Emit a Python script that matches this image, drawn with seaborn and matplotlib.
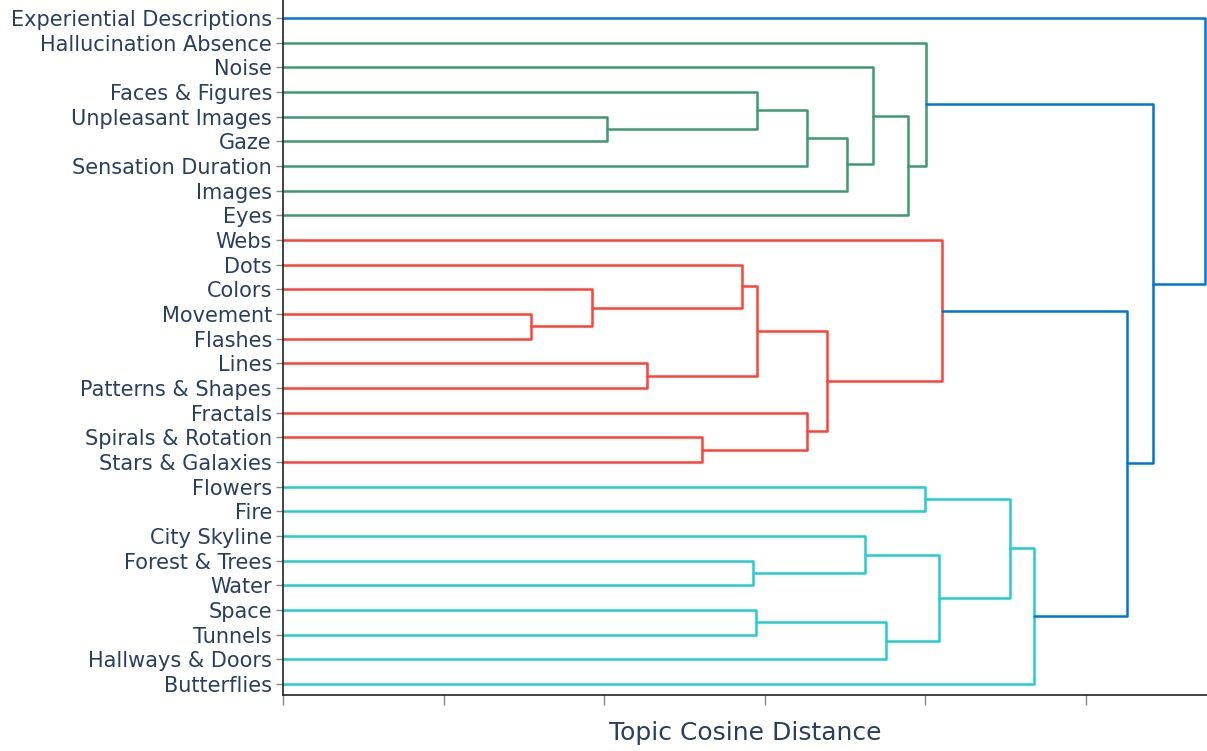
import matplotlib
matplotlib.use("Agg")
import matplotlib.pyplot as plt
import numpy as np
import pandas as pd
import seaborn as sns

# Leaf topics, top to bottom
leaf_labels = [
    "Experiential Descriptions", "Hallucination Absence", "Noise", "Faces & Figures",
    "Unpleasant Images", "Gaze", "Sensation Duration", "Images", "Eyes",
    "Webs", "Dots", "Colors", "Movement", "Flashes", "Lines", "Patterns & Shapes",
    "Fractals", "Spirals & Rotation", "Stars & Galaxies",
    "Flowers", "Fire", "City Skyline", "Forest & Trees", "Water", "Space",
    "Tunnels", "Hallways & Doors", "Butterflies",
]

# Linkage: node ids < 28 are leaves, ids >= 28 are earlier merges (28 + row)
link_left = [4, 3, 29, 30, 2, 32, 1,
             12, 11, 10, 14, 37, 17, 16, 39, 9,
             19, 22, 21, 24, 47, 46, 44, 50,
             43, 34, 0]
link_right = [5, 28, 6, 7, 31, 8, 33,
              13, 35, 36, 15, 38, 18, 40, 41, 42,
              20, 23, 45, 25, 26, 48, 49, 27,
              51, 52, 53]
link_height = [0.2019, 0.2953, 0.3265, 0.3514, 0.3676, 0.3894, 0.4006,
               0.1545, 0.1925, 0.2860, 0.2268, 0.2953, 0.2611, 0.3265, 0.3389, 0.4106,
               0.4000, 0.2928, 0.3626, 0.2947, 0.3757, 0.4087, 0.4530, 0.4679,
               0.5259, 0.5421, 0.5745]
link_group = ["g"] * 7 + ["r"] * 9 + ["c"] * 8 + ["b"] * 3

palette = {"g": "#3D9970", "r": "#FF4136", "c": "#23CDCD", "b": "#0074D9"}

# Build U-shaped paths for every link
n_leaves = len(leaf_labels)
node_pos = {i: float(i) for i in range(n_leaves)}
node_h = {i: 0.0 for i in range(n_leaves)}
rows = []
for k, (a, b, h, g) in enumerate(zip(link_left, link_right, link_height, link_group)):
    ya, yb = node_pos[a], node_pos[b]
    pts = [(node_h[a], ya), (h, ya), (h, yb), (node_h[b], yb)]
    for order, (x, y) in enumerate(pts):
        rows.append({"link": k, "order": order, "dist": x, "pos": y, "group": g})
    node_pos[n_leaves + k] = (ya + yb) / 2
    node_h[n_leaves + k] = h
segments = pd.DataFrame(rows)

sns.set_theme(style="ticks")
plt.rcParams["font.family"] = ["DejaVu Sans"]

W, H = 1207, 751
fig = plt.figure(figsize=(W / 100, H / 100), dpi=100)
left_px, bottom_px = 283, 695
ax = fig.add_axes([left_px / W, (H - bottom_px) / H, 1 - left_px / W, bottom_px / H])

sns.lineplot(data=segments, x="dist", y="pos", units="link", estimator=None,
             sort=False, hue="group", palette=palette, legend=False,
             linewidth=1.8, ax=ax)
for line in ax.get_lines():
    line.set_clip_on(False)

text_color = "#2a3f5f"
step_px = 24.667
ax.set_ylim(27 + 11 / step_px, -18 / step_px)
ax.set_xlim(0, 0.5757)
ax.set_yticks(range(n_leaves))
ax.set_yticklabels(leaf_labels, fontsize=15, color=text_color)
ax.set_xticks(np.arange(0, 0.55, 0.1))
ax.set_xticklabels([])
ax.tick_params(axis="y", length=5, width=1, color="#888888", pad=3)
ax.tick_params(axis="x", length=7, width=1, color="#888888")
ax.set_xlabel("Topic Cosine Distance", fontsize=18, color=text_color, labelpad=8)
ax.set_ylabel("")

for side in ["top", "right"]:
    ax.spines[side].set_visible(False)
for side in ["left", "bottom"]:
    ax.spines[side].set_color("#222222")
    ax.spines[side].set_linewidth(1.2)

fig.savefig("out.png", dpi=100)
